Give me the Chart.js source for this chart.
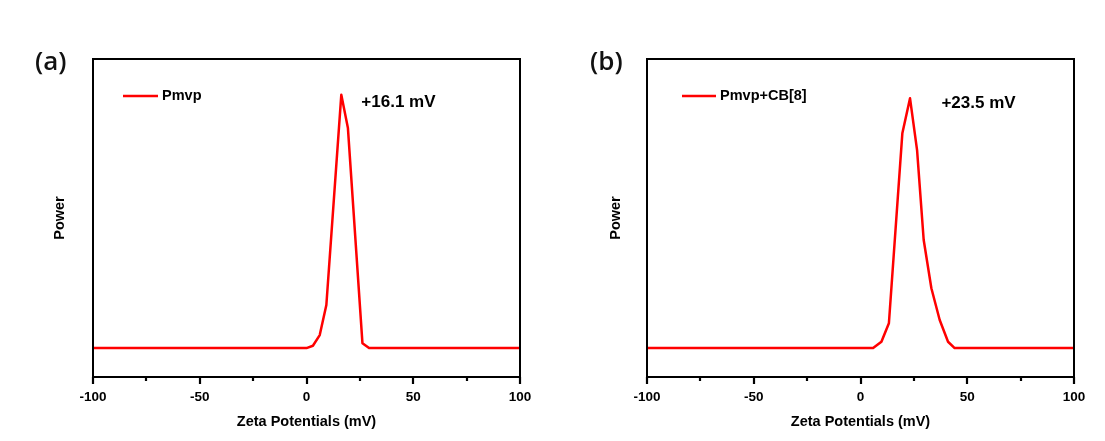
<!DOCTYPE html>
<html>
<head>
<meta charset="utf-8">
<script src="https://cdn.jsdelivr.net/npm/chart.js@4.4.0/dist/chart.umd.min.js"></script>
<style>
  html, body { margin: 0; padding: 0; background: #fff; }
  #wrap { position: relative; width: 1105px; height: 441px; overflow: hidden; }
  canvas { position: absolute; top: 0; }
  .tag { position: absolute; font-family: "Open Sans", Arial, sans-serif; font-weight: 600; font-size: 26px; line-height: 26px; color: #111; }
</style>
</head>
<body>
<div id="wrap">
  <canvas id="chartA" width="552" height="441" style="left:0"></canvas>
  <canvas id="chartB" width="553" height="441" style="left:552px"></canvas>
  <div class="tag" style="left:35px; top:47px">(a)</div>
  <div class="tag" style="left:590px; top:47px">(b)</div>
</div>
<script>
// x values (mV) and power (arb. units, baseline = 0)
var zetaA  = [-100, 0, 3.0, 6.2, 9.3, 16.3, 19.4, 26.2, 29.3, 100];
var powerA = [0, 0, 0.8, 4.5, 14.9, 87.6, 76.1, 1.7, 0, 0];
var zetaB  = [-100, 5.9, 9.8, 13.3, 19.6, 23.2, 26.5, 29.6, 33.2, 37.1, 41.0, 44.1, 100];
var powerB = [0, 0, 2.2, 8.6, 74.3, 86.4, 68.5, 37.4, 20.7, 9.7, 2.2, 0, 0];
var xTicks = [-100, -50, 0, 50, 100];
var labelA = 'Pmvp', labelB = 'Pmvp+CB[8]';
var noteA = { x: 25.7, y: 84.9, text: '+16.1 mV' };
var noteB = { x: 37.9, y: 84.7, text: '+23.5 mV' };

var FONT = '"Liberation Sans", Arial, sans-serif';

function pts(xs, ys) {
  return xs.map(function(x, i) { return { x: x, y: ys[i] }; });
}

// frame box + major/minor ticks on the x axis
var frame = {
  id: 'frame',
  afterDatasetsDraw: function(chart) {
    var c = chart.ctx, a = chart.chartArea, xs = chart.scales.x;
    c.save();
    c.strokeStyle = '#000';
    c.lineWidth = 2;
    c.strokeRect(a.left, a.top, a.right - a.left, a.bottom - a.top);
    c.lineWidth = 2.2;
    xs.ticks.forEach(function(t) {
      var px = Math.round(xs.getPixelForValue(t.value));
      var len = (t.value % 50 === 0) ? 7 : 4;
      c.beginPath();
      c.moveTo(px, a.bottom);
      c.lineTo(px, a.bottom + len);
      c.stroke();
    });
    c.restore();
  }
};

// in-plot legend and peak annotation
var notes = {
  id: 'notes',
  afterDraw: function(chart, args, opts) {
    var c = chart.ctx, a = chart.chartArea, ds = chart.data.datasets[0];
    var xs = chart.scales.x, ys = chart.scales.y;
    c.save();
    c.strokeStyle = ds.borderColor;
    c.lineWidth = 2.5;
    var ly = a.top + opts.legendDy;
    c.beginPath();
    c.moveTo(a.left + opts.legendX0, ly);
    c.lineTo(a.left + opts.legendX1, ly);
    c.stroke();
    c.fillStyle = '#000';
    c.textBaseline = 'middle';
    c.textAlign = 'left';
    c.font = 'bold 14.5px ' + FONT;
    c.fillText(ds.label, a.left + opts.legendX1 + 4, ly);
    c.font = 'bold 17px ' + FONT;
    c.fillText(opts.note.text, xs.getPixelForValue(opts.note.x), ys.getPixelForValue(opts.note.y));
    c.restore();
  }
};

function makeChart(id, xs, ys, label, note, yWidth, rightPad, titlePad, legX0, legX1) {
  var ctx = document.getElementById(id).getContext('2d');
  return new Chart(ctx, {
    type: 'line',
    data: {
      datasets: [{
        label: label,
        data: pts(xs, ys),
        borderColor: '#ff0000',
        borderWidth: 2.5,
        borderJoinStyle: 'round',
        pointRadius: 0,
        tension: 0,
        fill: false
      }]
    },
    options: {
      responsive: false,
      animation: false,
      devicePixelRatio: 1,
      layout: { padding: { top: 59, right: rightPad, bottom: 0, left: 0 } },
      plugins: {
        legend: { display: false },
        tooltip: { enabled: false },
        notes: { legendDy: 37, legendX0: legX0, legendX1: legX1, note: note }
      },
      scales: {
        x: {
          type: 'linear', min: -100, max: 100,
          afterFit: function(s) { s.height = 64; },
          afterBuildTicks: function(s) {
            var out = [];
            for (var v = xTicks[0]; v <= xTicks[xTicks.length - 1]; v += 25) out.push({ value: v });
            s.ticks = out;
          },
          grid: { display: false, drawTicks: false },
          border: { display: false },
          ticks: {
            color: '#000', padding: 12, maxRotation: 0, autoSkip: false,
            font: { family: FONT, size: 13.5, weight: 'bold' },
            callback: function(v) { return xTicks.indexOf(v) >= 0 ? String(v) : ''; }
          },
          title: {
            display: true, text: 'Zeta Potentials (mV)', color: '#000',
            font: { family: FONT, size: 14.5, weight: 'bold' },
            padding: { top: 0, bottom: 10.5 }
          }
        },
        y: {
          min: -10, max: 100,
          afterFit: function(s) { s.width = yWidth; },
          grid: { display: false },
          border: { display: false },
          ticks: { display: false },
          title: {
            display: true, text: 'Power', color: '#000',
            font: { family: FONT, size: 14.5, weight: 'bold' },
            padding: { top: titlePad + 1, bottom: 0 }
          }
        }
      }
    },
    plugins: [frame, notes]
  });
}

makeChart('chartA', zetaA, powerA, labelA, noteA, 93, 32, 50, 30, 65);
makeChart('chartB', zetaB, powerB, labelB, noteB, 95, 31, 54, 35, 69);
</script>
</body>
</html>
